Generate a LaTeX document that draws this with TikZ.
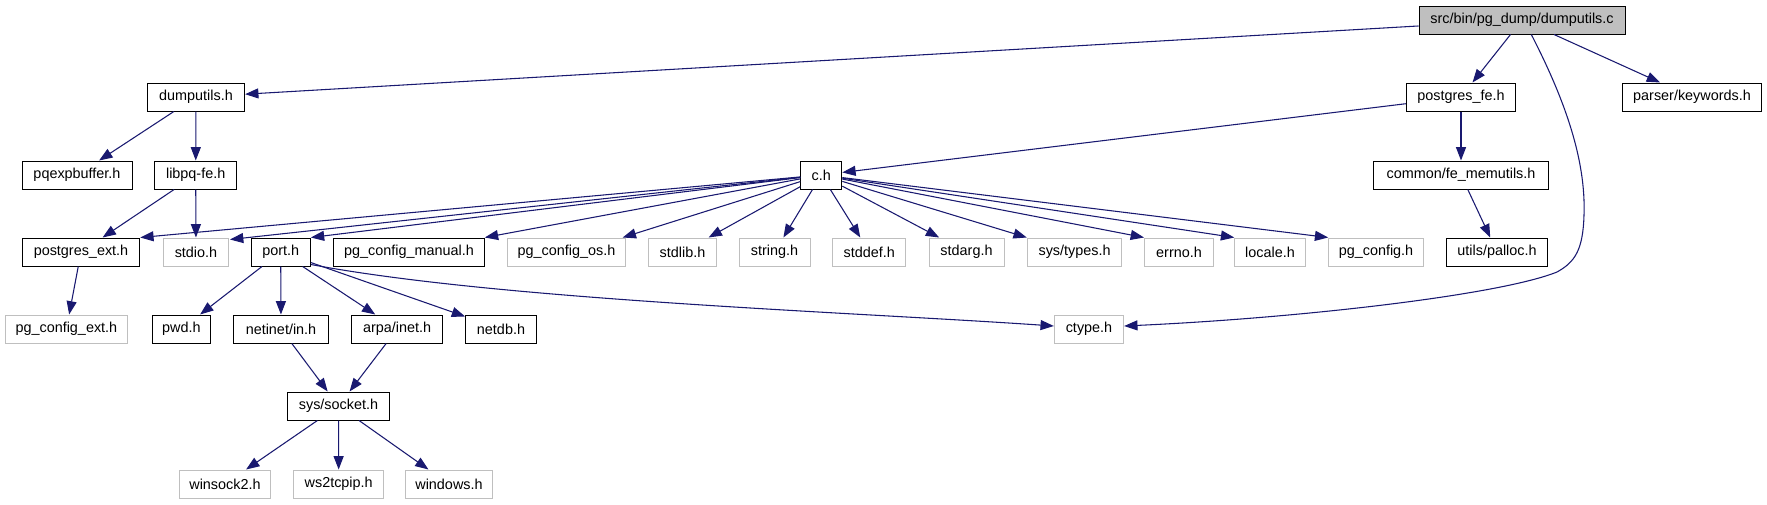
\documentclass[tikz,border=0pt]{standalone}
\usepackage{fontspec}
\setmainfont{Liberation Sans}
\usetikzlibrary{arrows.meta,calc}
\definecolor{edgeblue}{HTML}{191970}
\definecolor{lgray}{HTML}{BFBFBF}
\begin{document}
\begin{tikzpicture}[x=0.75pt,y=-0.75pt,
  font=\fontsize{10.8}{12}\selectfont,
  nd/.style={draw=black, line width=0.75pt, inner sep=0pt, minimum height=21pt, fill=white},
  gnd/.style={nd, draw=lgray},
  mainnd/.style={nd, fill=lgray},
  dep/.style={draw=edgeblue, line width=0.8pt, -{Triangle[length=10pt,width=7.5pt]}}]
\useasboundingbox (0,0) rectangle (1767,504);
% row 0
\node[mainnd, minimum width=154.5pt] (main) at (1522,20) {src/bin/pg\_dump/dumputils.c};
% row 1
\node[nd, minimum width=72.9pt] (dumputils) at (196,97) {dumputils.h};
\node[nd, minimum width=82.1pt] (pfe) at (1461,97) {postgres\_fe.h};
\node[nd, minimum width=104.25pt] (keywords) at (1692,97) {parser/keywords.h};
% row 2
\node[nd, minimum width=82.5pt] (pqexp) at (77,175) {pqexpbuffer.h};
\node[nd, minimum width=61.1pt] (libpq) at (195.7,175) {libpq-fe.h};
\node[nd, minimum width=30.75pt] (ch) at (821.3,175) {c.h};
\node[nd, minimum width=131.25pt] (femem) at (1461,175) {common/fe\_memutils.h};
% row 3
\node[nd, minimum width=88.1pt] (pgext) at (81,252) {postgres\_ext.h};
\node[gnd, minimum width=48.75pt] (stdio) at (196,252) {stdio.h};
\node[nd, minimum width=44.5pt] (port) at (280.7,252) {port.h};
\node[nd, minimum width=113pt] (manual) at (409,252) {pg\_config\_manual.h};
\node[gnd, minimum width=88pt] (os) at (566.5,252) {pg\_config\_os.h};
\node[gnd, minimum width=50.5pt] (stdlib) at (682.5,252) {stdlib.h};
\node[gnd, minimum width=53.1pt] (string) at (774.6,252) {string.h};
\node[gnd, minimum width=55pt] (stddef) at (869.3,252) {stddef.h};
\node[gnd, minimum width=56.25pt] (stdarg) at (966.5,252) {stdarg.h};
\node[gnd, minimum width=71pt] (systypes) at (1074.6,252) {sys/types.h};
\node[gnd, minimum width=51.75pt] (errno) at (1179,252) {errno.h};
\node[gnd, minimum width=52.9pt] (locale) at (1270,252) {locale.h};
\node[gnd, minimum width=70.9pt] (pgconfig) at (1376,252) {pg\_config.h};
\node[nd, minimum width=75.75pt] (palloc) at (1497,252) {utils/palloc.h};
% row 4
\node[gnd, minimum width=92.1pt] (pgcext) at (66.4,329) {pg\_config\_ext.h};
\node[nd, minimum width=44.1pt] (pwd) at (181.4,329) {pwd.h};
\node[nd, minimum width=70.9pt] (netinet) at (281,329) {netinet/in.h};
\node[nd, minimum width=68.25pt] (arpa) at (397.2,329) {arpa/inet.h};
\node[nd, minimum width=53.1pt] (netdb) at (501,329) {netdb.h};
\node[gnd, minimum width=52pt] (ctype) at (1089,329) {ctype.h};
% row 5
\node[nd, minimum width=76pt] (socket) at (338.5,406) {sys/socket.h};
% row 6
\node[gnd, minimum width=68pt] (winsock) at (225,484) {winsock2.h};
\node[gnd, minimum width=67.1pt] (ws2) at (338.7,484) {ws2tcpip.h};
\node[gnd, minimum width=65.5pt] (windows) at (449,484) {windows.h};

% edges
\draw[dep] (main) -- (dumputils);
\draw[dep] (main) -- (pfe);
\draw[dep] (main) -- (keywords);
\draw[dep] ($(main.south)+(9.3,0)$) .. controls (1565,100) and (1586,160) .. (1584,215)
  .. controls (1583,250) and (1575,262) .. (1557,272)
  .. controls (1500,295) and (1300,318) .. ($(ctype.east)+(0,-3)$);
\draw[dep] (dumputils) -- (pqexp);
\draw[dep] (dumputils) -- (libpq);
\draw[dep] (libpq) -- (pgext);
\draw[dep] (libpq) -- (stdio);
\draw[dep] (pfe) -- (ch);
\draw[dep] (pfe) -- (femem);
\draw[dep] (femem) -- (palloc);
\draw[dep] (ch) -- (pgext.north east);
\draw[dep] (ch) -- ($(stdio.north east)+(1,2)$);
\draw[dep] (ch) -- (port.north east);
\draw[dep] (ch) -- (manual.north east);
\draw[dep] (ch) -- ($(os.north east)+(-3,0)$);
\draw[dep] (ch) -- (stdlib);
\draw[dep] (ch) -- (string);
\draw[dep] (ch) -- (stddef);
\draw[dep] (ch) -- (stdarg);
\draw[dep] (ch) -- (systypes);
\draw[dep] (ch) -- (errno.north west);
\draw[dep] (ch) -- (locale.north west);
\draw[dep] (ch) -- (pgconfig.north west);
\draw[dep] (pgext) -- (pgcext);
\draw[dep] (port) -- (pwd);
\draw[dep] (port) -- (netinet);
\draw[dep] (port) -- (arpa);
\draw[dep] (port) -- (netdb);
\draw[dep] ($(port.south east)+(0,-2)$) .. controls (500,300) and (850,312) .. ($(ctype.west)+(0,-3)$);
\draw[dep] (netinet) -- (socket);
\draw[dep] (arpa) -- (socket);
\draw[dep] (socket) -- (winsock);
\draw[dep] (socket) -- (ws2);
\draw[dep] (socket) -- (windows);
\end{tikzpicture}
\end{document}
